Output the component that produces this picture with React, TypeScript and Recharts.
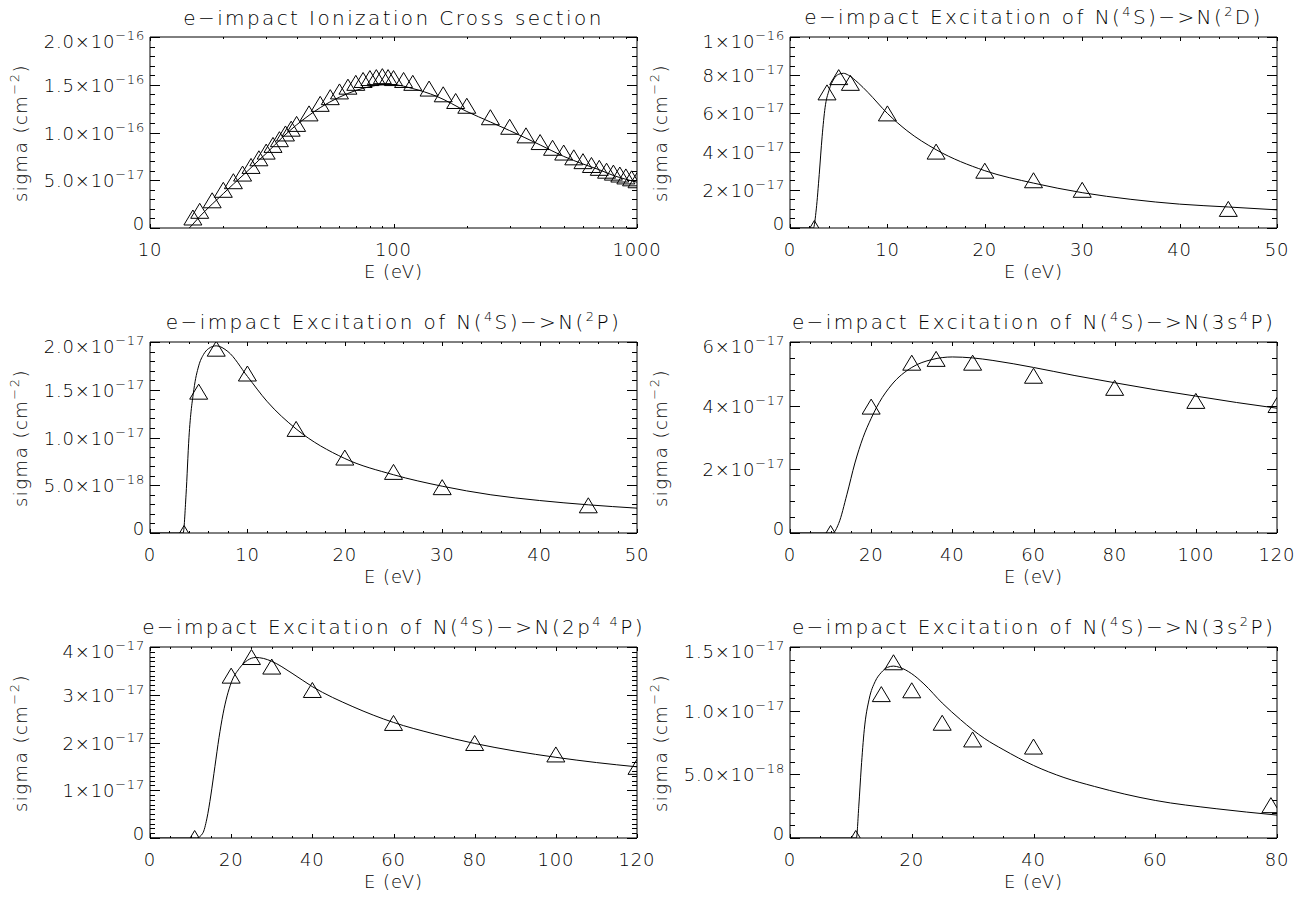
import React from 'react';
import { ComposedChart, Line, Scatter, XAxis, YAxis, ReferenceArea } from 'recharts';

const FONT = '"DejaVu Sans ExtraLight", "DejaVu Sans Light", "DejaVu Sans", Verdana, sans-serif';

// ---- ionization (sigma in 1e-16 cm^2) ----
const ionCurveE = [14.5, 15, 16, 18, 20, 22, 25, 28, 30, 35, 40, 45, 50, 60, 70, 80, 90, 100, 120, 150, 200, 250, 300, 400, 500, 600, 700, 800, 900, 1000];
const ionCurveSigma = [0, 0.04, 0.12, 0.25, 0.36, 0.46, 0.59, 0.71, 0.78, 0.95, 1.08, 1.18, 1.26, 1.37, 1.44, 1.48, 1.5, 1.5, 1.46, 1.38, 1.22, 1.11, 1.02, 0.87, 0.75, 0.67, 0.61, 0.55, 0.51, 0.48];
const ionPointE = [15, 16, 18, 20, 22, 24, 26, 28, 30, 32, 34, 36, 38, 40, 45, 50, 55, 60, 65, 70, 75, 80, 85, 90, 95, 100, 110, 120, 140, 160, 180, 200, 250, 300, 350, 400, 450, 500, 550, 600, 650, 700, 750, 800, 850, 900, 950, 1000];
const ionPointSigma = [0.11, 0.18, 0.29, 0.4, 0.49, 0.57, 0.65, 0.73, 0.8, 0.87, 0.93, 0.99, 1.04, 1.09, 1.2, 1.3, 1.37, 1.43, 1.48, 1.52, 1.55, 1.57, 1.58, 1.59, 1.58, 1.57, 1.55, 1.52, 1.46, 1.4, 1.33, 1.28, 1.16, 1.06, 0.97, 0.9, 0.84, 0.79, 0.74, 0.7, 0.66, 0.63, 0.6, 0.58, 0.56, 0.54, 0.52, 0.5];

// ---- N(4S)->N(2D) (1e-17) ----
const d2CurveE = [0, 2.4, 2.7, 3.0, 3.3, 3.6, 4.0, 4.5, 5.0, 5.5, 6.0, 7, 8, 10, 12, 15, 20, 25, 30, 35, 40, 45, 50];
const d2CurveSigma = [0, 0, 1.0, 2.8, 4.8, 6.3, 7.2, 7.8, 8.05, 8.1, 8.0, 7.6, 7.1, 6.0, 5.1, 4.1, 3.0, 2.35, 1.85, 1.5, 1.25, 1.1, 0.95];
const d2PointE = [2.5, 3.8, 5, 6.2, 10, 15, 20, 25, 30, 45];
const d2PointSigma = [0, 7.1, 7.9, 7.6, 6.0, 4.0, 3.0, 2.5, 2.0, 1.0];

// ---- N(4S)->N(2P) (1e-18) ----
const p2CurveE = [0, 3.4, 3.7, 4.0, 4.5, 5.0, 5.5, 6.0, 6.8, 8.0, 10, 12, 15, 20, 25, 30, 35, 40, 45, 50];
const p2CurveSigma = [0, 0, 4, 10, 15, 17.5, 18.7, 19.3, 19.6, 19.0, 16.4, 13.8, 10.9, 7.8, 6.1, 4.9, 4.0, 3.4, 2.95, 2.6];
const p2PointE = [3.5, 5, 6.8, 10, 15, 20, 25, 30, 45];
const p2PointSigma = [0, 14.8, 19.3, 16.7, 10.9, 7.9, 6.4, 4.8, 2.9];

// ---- N(4S)->N(3s4P) (1e-17) ----
const s4CurveE = [0, 10.5, 12, 14, 16, 18, 20, 22, 25, 30, 35, 40, 45, 50, 60, 70, 80, 90, 100, 110, 120];
const s4CurveSigma = [0, 0, 0.3, 1.2, 2.2, 3.0, 3.6, 4.1, 4.65, 5.2, 5.45, 5.53, 5.5, 5.42, 5.2, 4.95, 4.72, 4.5, 4.3, 4.1, 3.92];
const s4PointE = [10, 20, 30, 36, 45, 60, 80, 100, 120];
const s4PointSigma = [0, 3.97, 5.35, 5.47, 5.35, 4.94, 4.56, 4.15, 4.02];

// ---- N(4S)->N(2p4 4P) (1e-17) ----
const p4CurveE = [0, 11.5, 13, 14, 15, 16, 17, 18, 20, 22, 24, 26, 28, 30, 35, 40, 50, 60, 70, 80, 90, 100, 110, 120];
const p4CurveSigma = [0, 0, 0.1, 0.4, 0.9, 1.5, 2.1, 2.6, 3.25, 3.55, 3.72, 3.78, 3.76, 3.7, 3.45, 3.17, 2.75, 2.42, 2.18, 1.98, 1.82, 1.69, 1.58, 1.49];
const p4PointE = [11, 20, 25, 30, 40, 60, 80, 100, 120];
const p4PointSigma = [0, 3.4, 3.79, 3.59, 3.1, 2.41, 1.99, 1.75, 1.49];

// ---- N(4S)->N(3s2P) (1e-18) ----
const s2CurveE = [0, 10.9, 11.3, 11.7, 12.2, 13, 14, 15, 16, 17, 18, 20, 22, 25, 28, 30, 32, 35, 40, 45, 50, 60, 70, 80];
const s2CurveSigma = [0, 0, 2.5, 5.5, 8.5, 10.9, 12.3, 13.0, 13.4, 13.5, 13.4, 12.9, 12.1, 10.6, 9.3, 8.5, 7.8, 6.95, 5.7, 4.75, 4.05, 2.95, 2.3, 1.8];
const s2PointE = [10.8, 15, 17, 20, 25, 30, 40, 79];
const s2PointSigma = [0, 11.3, 13.8, 11.6, 9.05, 7.74, 7.18, 2.58];

// tick labels
const ionYLabels = ['0', '5.0×10^{−17}', '1.0×10^{−16}', '1.5×10^{−16}', '2.0×10^{−16}'];
const d2YLabels = ['0', '2×10^{−17}', '4×10^{−17}', '6×10^{−17}', '8×10^{−17}', '1×10^{−16}'];
const p2YLabels = ['0', '5.0×10^{−18}', '1.0×10^{−17}', '1.5×10^{−17}', '2.0×10^{−17}'];
const s4YLabels = ['0', '2×10^{−17}', '4×10^{−17}', '6×10^{−17}'];
const p4YLabels = ['0', '1×10^{−17}', '2×10^{−17}', '3×10^{−17}', '4×10^{−17}'];
const s2YLabels = ['0', '5.0×10^{−18}', '1.0×10^{−17}', '1.5×10^{−17}'];
const logMinor = [20, 30, 40, 50, 60, 70, 80, 90, 200, 300, 400, 500, 600, 700, 800, 900];

const titles = [
  'e−impact Ionization Cross section',
  'e−impact Excitation of N(^{4}S)−>N(^{2}D)',
  'e−impact Excitation of N(^{4}S)−>N(^{2}P)',
  'e−impact Excitation of N(^{4}S)−>N(3s^{4}P)',
  'e−impact Excitation of N(^{4}S)−>N(2p^{4 4}P)',
  'e−impact Excitation of N(^{4}S)−>N(3s^{2}P)',
];

const toXY = (xs: number[], ys: number[], unit: number) => xs.map((x, i) => ({ x, y: ys[i] * unit }));
const steps = (to: number, step: number) => {
  const out: number[] = [];
  for (let k = 0; k * step <= to * (1 + 1e-9); k++) out.push(+(k * step).toPrecision(12));
  return out;
};

const panels = [
  { log: true, xMax: 1000, xMajor: [10, 100, 1000], xMinor: logMinor, yMax: 2e-16, yStep: 5e-17, yMinor: 1e-17, yLabels: ionYLabels,
    curve: toXY(ionCurveE, ionCurveSigma, 1e-16), points: toXY(ionPointE, ionPointSigma, 1e-16) },
  { log: false, xMax: 50, xMajor: steps(50, 10), xMinor: steps(50, 2), yMax: 1e-16, yStep: 2e-17, yMinor: 5e-18, yLabels: d2YLabels,
    curve: toXY(d2CurveE, d2CurveSigma, 1e-17), points: toXY(d2PointE, d2PointSigma, 1e-17) },
  { log: false, xMax: 50, xMajor: steps(50, 10), xMinor: steps(50, 2), yMax: 2e-17, yStep: 5e-18, yMinor: 1e-18, yLabels: p2YLabels,
    curve: toXY(p2CurveE, p2CurveSigma, 1e-18), points: toXY(p2PointE, p2PointSigma, 1e-18) },
  { log: false, xMax: 120, xMajor: steps(120, 20), xMinor: steps(120, 5), yMax: 6e-17, yStep: 2e-17, yMinor: 5e-18, yLabels: s4YLabels,
    curve: toXY(s4CurveE, s4CurveSigma, 1e-17), points: toXY(s4PointE, s4PointSigma, 1e-17) },
  { log: false, xMax: 120, xMajor: steps(120, 20), xMinor: steps(120, 5), yMax: 4e-17, yStep: 1e-17, yMinor: 1e-18, yLabels: p4YLabels,
    curve: toXY(p4CurveE, p4CurveSigma, 1e-17), points: toXY(p4PointE, p4PointSigma, 1e-17) },
  { log: false, xMax: 80, xMajor: steps(80, 20), xMinor: steps(80, 5), yMax: 1.5e-17, yStep: 5e-18, yMinor: 1e-18, yLabels: s2YLabels,
    curve: toXY(s2CurveE, s2CurveSigma, 1e-18), points: toXY(s2PointE, s2PointSigma, 1e-18) },
];

const COL_W = 651; // grid pitch
const CELL_W = 700; // chart width, wider than the pitch so edge labels are not cut
const CELL_H = 305;
const PLOT_TOP = 37;
const PLOT_BOTTOM = 228;
const PLOT_W = 487;

// text with ^{...} superscripts, html version
function Rich({ text, supSize, raise }: { text: string; supSize: number; raise: number }) {
  const parts = text.split(/\^\{([^}]*)\}/);
  return (
    <>
      {parts.map((p, i) =>
        i % 2 ? <span key={i} style={{ fontSize: supSize, position: 'relative', top: -raise }}>{p}</span> : <span key={i}>{p}</span>
      )}
    </>
  );
}

// svg version for tick labels
function SvgRich({ x, y, text, anchor }: { x: number; y: number; text: string; anchor: string }) {
  const parts = text.split(/\^\{([^}]*)\}/);
  let cur = 0;
  return (
    <text x={x} y={y} textAnchor={anchor} fontFamily={FONT} fontSize={18} fill="#000" stroke="none" letterSpacing={0.8}>
      {parts.map((p, i) => {
        const target = i % 2 ? -8 : 0;
        const dy = target - cur;
        cur = target;
        if (!p) return null;
        return <tspan key={i} dy={dy} fontSize={i % 2 ? 13 : 18}>{p}</tspan>;
      })}
    </text>
  );
}

const Triangle = (props: any) => {
  const { cx, cy } = props;
  if (cx == null || cy == null) return null;
  return <polygon points={`${cx - 9},${cy + 7.5} ${cx},${cy - 7.5} ${cx + 9},${cy + 7.5}`} fill="none" stroke="#000" strokeWidth={1} />;
};

const crisp = (v: number) => Math.round(v) + 0.5;

function Panel({ index }: { index: number }) {
  const spec = panels[index];
  const col = index % 2;
  const row = Math.floor(index / 2);
  const left = col === 0 ? 150 : 139;
  const right = left + PLOT_W;
  const xMin = spec.log ? 10 : 0;
  const yMajor = steps(spec.yMax, spec.yStep);
  const yMinor = steps(spec.yMax, spec.yMinor);
  const isMajor = (arr: number[], v: number, span: number) => arr.findIndex((m) => Math.abs(m - v) < span * 1e-6);
  const xTicks = [...spec.xMajor, ...spec.xMinor.filter((v) => isMajor(spec.xMajor, v, spec.xMax) < 0)];
  const yTicks = [...yMajor, ...yMinor.filter((v) => isMajor(yMajor, v, spec.yMax) < 0)];

  const XTick = (props: any) => {
    const x = crisp(props.x);
    const i = isMajor(spec.xMajor, props.payload.value, spec.xMax);
    const len = i >= 0 ? 4 : 2;
    return (
      <g>
        <line x1={x} x2={x} y1={PLOT_BOTTOM} y2={PLOT_BOTTOM - len} stroke="#000" />
        <line x1={x} x2={x} y1={PLOT_TOP} y2={PLOT_TOP + len} stroke="#000" />
        {i >= 0 && <SvgRich x={props.x} y={PLOT_BOTTOM + 28} text={String(spec.xMajor[i])} anchor="middle" />}
      </g>
    );
  };

  const YTick = (props: any) => {
    const y = crisp(props.y);
    const i = isMajor(yMajor, props.payload.value, spec.yMax);
    const len = i >= 0 ? 10 : 5;
    // the zero label sits a little above its tick, the top one a little below
    const shift = i === 0 ? -5 : i === yMajor.length - 1 ? 4 : 0;
    return (
      <g>
        <line x1={left} x2={left + len} y1={y} y2={y} stroke="#000" />
        <line x1={right} x2={right - len} y1={y} y2={y} stroke="#000" />
        {i >= 0 && <SvgRich x={left - 5} y={props.y + 7 + shift} text={spec.yLabels[i]} anchor="end" />}
      </g>
    );
  };

  const cx = left + PLOT_W / 2;
  // axes need a non-zero size to be drawn, so they take 1px out of the margins
  return (
    <div style={{ position: 'absolute', left: col * COL_W, top: row * CELL_H, width: CELL_W, height: CELL_H }}>
      <ComposedChart width={CELL_W} height={CELL_H} margin={{ top: PLOT_TOP, right: CELL_W - right, bottom: CELL_H - PLOT_BOTTOM - 1, left: left - 1 }}>
        <XAxis type="number" dataKey="x" scale={spec.log ? 'log' : 'linear'} domain={[xMin, spec.xMax]} allowDataOverflow
          ticks={xTicks} interval={0} tick={XTick} tickLine={false} axisLine={false} tickSize={0} tickMargin={0} height={1} />
        <YAxis type="number" dataKey="y" domain={[0, spec.yMax]} allowDataOverflow
          ticks={yTicks} interval={0} tick={YTick} tickLine={false} axisLine={false} tickSize={0} tickMargin={0} width={1} />
        <ReferenceArea x1={xMin} x2={spec.xMax} y1={0} y2={spec.yMax} fill="none" stroke="#000" strokeWidth={1} ifOverflow="visible" />
        <Line data={spec.curve} dataKey="y" type="monotone" dot={false} activeDot={false} stroke="#000" strokeWidth={1} isAnimationActive={false} />
        <Scatter data={spec.points} dataKey="y" shape={Triangle} isAnimationActive={false} />
      </ComposedChart>
      <div style={{ position: 'absolute', left: cx, top: 18, transform: 'translate(-50%, -50%)', whiteSpace: 'nowrap', fontSize: 20, lineHeight: '20px', letterSpacing: 2.4 }}>
        <Rich text={titles[index]} supSize={13} raise={8} />
      </div>
      <div style={{ position: 'absolute', left: cx, top: 272, transform: 'translate(-50%, -50%)', whiteSpace: 'nowrap', fontSize: 18, lineHeight: '18px', letterSpacing: 1 }}>
        E (eV)
      </div>
      <div style={{ position: 'absolute', left: left - 128, top: (PLOT_TOP + PLOT_BOTTOM) / 2, transform: 'translate(-50%, -50%) rotate(-90deg)', whiteSpace: 'nowrap', fontSize: 18, lineHeight: '18px', letterSpacing: 1.5 }}>
        <Rich text="sigma (cm^{−2})" supSize={13} raise={8} />
      </div>
    </div>
  );
}

export default function App() {
  return (
    <div style={{ position: 'absolute', left: 0, top: 0, width: 1302, height: 898, overflow: 'hidden', background: '#fff', fontFamily: FONT, color: '#000' }}>
      {panels.map((_, i) => (
        <Panel key={i} index={i} />
      ))}
    </div>
  );
}
